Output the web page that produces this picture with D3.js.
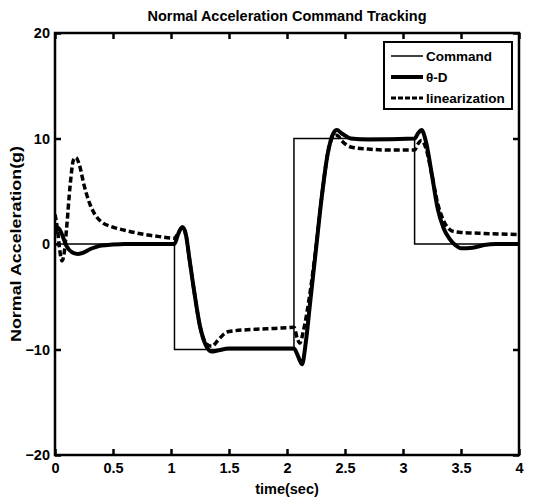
<!DOCTYPE html>
<html>
<head>
<meta charset="utf-8">
<script src="https://cdn.jsdelivr.net/npm/d3@7"></script>
<style>
  body { margin: 0; background: #fff; }
  text { font-family: "Liberation Sans", Arial, sans-serif; font-weight: bold; fill: #000; }
</style>
</head>
<body>
<svg id="chart" width="537" height="500"></svg>
<script>
// data
const xTicks = [0, 0.5, 1, 1.5, 2, 2.5, 3, 3.5, 4]
const yTicks = [-20, -10, 0, 10, 20]

const cmdT = [0, 1.03, 2.06, 3.1, 4]
const cmdV = [0, -10, 10, 0, 0]

const thetaT = [0, 0.03, 0.06, 0.1, 0.15, 0.2, 0.25, 0.3, 0.35, 0.4, 0.5, 0.6, 1.03, 1.06, 1.1, 1.13, 1.16, 1.2, 1.25, 1.3, 1.35, 1.4, 1.5, 1.8, 2.06, 2.09, 2.13, 2.16, 2.2, 2.25, 2.3, 2.35, 2.4, 2.43, 2.47, 2.55, 2.7, 3.1, 3.13, 3.16, 3.2, 3.25, 3.3, 3.35, 3.4, 3.45, 3.5, 3.6, 3.7, 3.8, 4]
const thetaV = [1.0, 1.5, 0.9, -0.2, -0.8, -0.95, -0.8, -0.5, -0.3, -0.15, -0.05, 0, 0, 0.9, 1.6, 0.8, -1.5, -4.5, -7.8, -9.6, -10.2, -10.1, -9.9, -9.9, -9.9, -10.5, -11.4, -9.5, -5.5, -0.5, 4.5, 8.5, 10.5, 10.8, 10.5, 10.0, 9.9, 10, 10.5, 10.8, 9.6, 6.5, 3.3, 1.5, 0.5, -0.1, -0.4, -0.35, -0.1, 0, 0]

const linT = [0, 0.02, 0.04, 0.06, 0.08, 0.1, 0.13, 0.16, 0.18, 0.21, 0.25, 0.3, 0.35, 0.4, 0.5, 0.6, 0.7, 0.8, 0.9, 1.03, 1.06, 1.1, 1.13, 1.16, 1.2, 1.25, 1.3, 1.35, 1.4, 1.45, 1.5, 1.7, 1.9, 2.06, 2.09, 2.11, 2.14, 2.2, 2.25, 2.3, 2.35, 2.4, 2.43, 2.47, 2.55, 2.7, 2.9, 3.1, 3.13, 3.16, 3.2, 3.25, 3.3, 3.35, 3.4, 3.45, 3.5, 3.7, 4]
const linV = [2.8, 1.5, -0.5, -1.6, -0.8, 1.5, 5.5, 8.0, 8.2, 7.5, 5.6, 3.8, 2.7, 2.1, 1.6, 1.3, 1.05, 0.85, 0.7, 0.55, 1.0, 1.6, 0.8, -1.5, -4.5, -7.8, -9.4, -9.7, -9.2, -8.6, -8.3, -8.1, -8.0, -7.9, -9.0, -9.4, -8.3, -4.5, -0.3, 4.5, 8.5, 10.2, 10.3, 9.8, 9.2, 9.0, 8.9, 8.9, 9.5, 9.8, 9.0, 6.5, 3.8, 2.2, 1.4, 1.15, 1.1, 1.0, 0.9]

const legendLabels = ['Command', 'θ-D', 'linearization']

//set up svg and scales
const svg = d3.select('#chart')
const mLeft = 55, mRight = 519, mTop = 33, mBottom = 455

const x = d3.scaleLinear().domain([0, 4]).range([mLeft, mRight])
const y = d3.scaleLinear().domain([-20, 20]).range([mBottom, mTop])

const zip = (ts, vs) => ts.map((t, i) => [t, vs[i]])

svg.append('clipPath').attr('id', 'clip')
    .append('rect').attr('x', mLeft).attr('y', mTop).attr('width', mRight - mLeft).attr('height', mBottom - mTop)

const plot = svg.append('g').attr('clip-path', 'url(#clip)')

// lines
const smooth = d3.line().x(d => x(d[0])).y(d => y(d[1])).curve(d3.curveMonotoneX)
const step = d3.line().x(d => x(d[0])).y(d => y(d[1])).curve(d3.curveStepAfter)

plot.append('path')
    .attr('d', step(zip(cmdT, cmdV)))
    .attr('fill', 'none').attr('stroke', '#000').attr('stroke-width', 1.5)

plot.append('path')
    .attr('d', smooth(zip(linT, linV)))
    .attr('fill', 'none').attr('stroke', '#000').attr('stroke-width', 3.5)
    .attr('stroke-dasharray', '6,3')

plot.append('path')
    .attr('d', smooth(zip(thetaT, thetaV)))
    .attr('fill', 'none').attr('stroke', '#000').attr('stroke-width', 4)

// axes
const tickLen = 6
svg.append('g').attr('transform', `translate(0,${mBottom})`)
    .call(d3.axisBottom(x).tickValues(xTicks).tickSize(-tickLen).tickPadding(8).tickFormat(d3.format('')))
svg.append('g').attr('transform', `translate(0,${mTop})`)
    .call(d3.axisTop(x).tickValues(xTicks).tickSize(-tickLen).tickFormat(''))
svg.append('g').attr('transform', `translate(${mLeft},0)`)
    .call(d3.axisLeft(y).tickValues(yTicks).tickSize(-tickLen).tickPadding(5))
svg.append('g').attr('transform', `translate(${mRight},0)`)
    .call(d3.axisRight(y).tickValues(yTicks).tickSize(-tickLen).tickFormat(''))

svg.selectAll('.domain').remove()
svg.selectAll('.tick line').attr('stroke', '#000').attr('stroke-width', 2.5)
svg.selectAll('.tick text').style('font-size', '14.5px').style('font-family', '"Liberation Sans", Arial, sans-serif').style('font-weight', 'bold')

svg.append('rect')
    .attr('x', mLeft).attr('y', mTop).attr('width', mRight - mLeft).attr('height', mBottom - mTop)
    .attr('fill', 'none').attr('stroke', '#000').attr('stroke-width', 2.5)

// titles
svg.append('text').attr('x', 287).attr('y', 21)
    .attr('text-anchor', 'middle').style('font-size', '14.5px')
    .text('Normal Acceleration Command Tracking')
svg.append('text').attr('x', 287).attr('y', 494)
    .attr('text-anchor', 'middle').style('font-size', '14.5px')
    .text('time(sec)')
svg.append('text')
    .attr('transform', `translate(21,${(mTop + mBottom) / 2}) rotate(-90)`)
    .attr('text-anchor', 'middle').style('font-size', '15px')
    .attr('textLength', 196).attr('lengthAdjust', 'spacingAndGlyphs')
    .text('Normal Acceleration(g)')

// legend
const lg = svg.append('g').attr('transform', 'translate(384,42)')
lg.append('rect').attr('width', 128).attr('height', 67)
    .attr('fill', '#fff').attr('stroke', '#000').attr('stroke-width', 2)
const styles = [
    { w: 1.5, dash: null },
    { w: 4, dash: null },
    { w: 3, dash: '5,2' }
]
legendLabels.forEach((label, i) => {
    const yy = 14 + i * 21
    lg.append('line').attr('x1', 7).attr('x2', 39).attr('y1', yy).attr('y2', yy)
        .attr('stroke', '#000').attr('stroke-width', styles[i].w)
        .attr('stroke-dasharray', styles[i].dash)
    lg.append('text').attr('x', 42).attr('y', yy + 5).style('font-size', '13.5px').text(label)
})
</script>
</body>
</html>
